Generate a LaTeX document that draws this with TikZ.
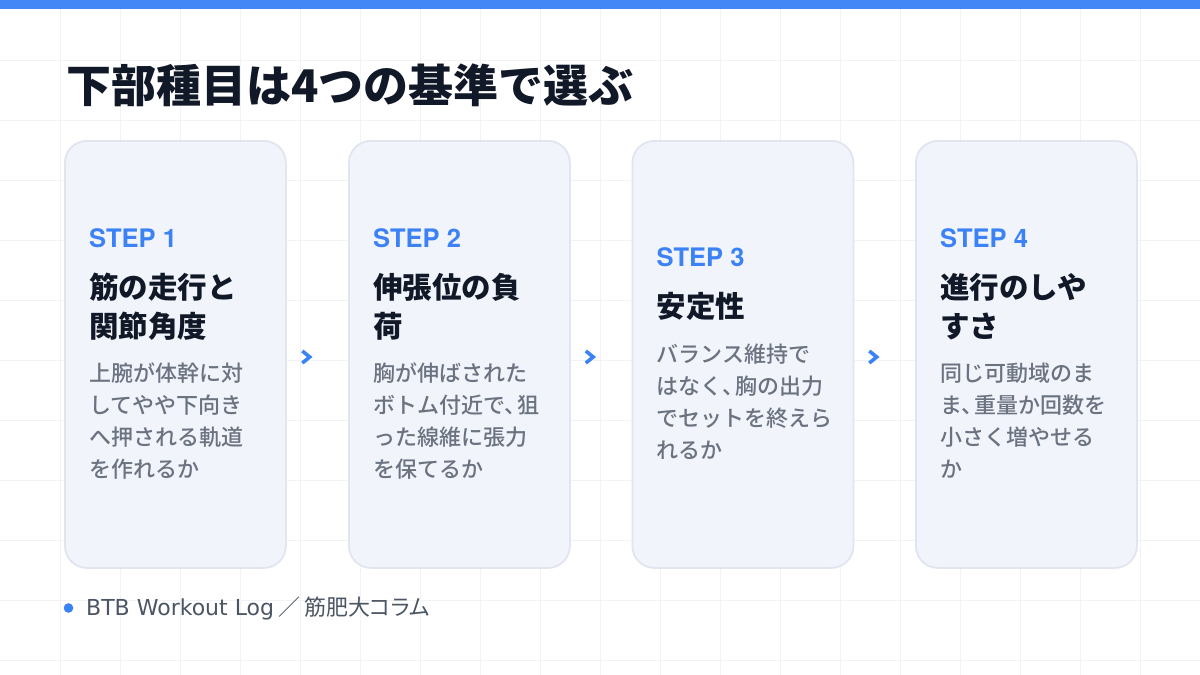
\documentclass[tikz,border=0pt]{standalone}
\usepackage{fontspec}
\setmainfont{Noto Sans CJK JP}
\newfontfamily\titlefont{Noto Sans CJK JP Black}
\newfontfamily\bodyfont{Noto Sans CJK JP Medium}
\newfontfamily\latinfont{TeX Gyre Heros}
\newfontfamily\footlatin{DejaVu Sans}
\newfontfamily\footcjk{Noto Sans CJK JP}[RawFeature=+palt]
\definecolor{bluec}{HTML}{3B82F6}
\definecolor{barc}{HTML}{4287F5}
\definecolor{inkc}{HTML}{111827}
\definecolor{bodyc}{HTML}{6B7280}
\definecolor{footc}{HTML}{4B5563}
\definecolor{cardfill}{HTML}{F1F4FB}
\definecolor{cardline}{HTML}{E1E5EF}
\definecolor{gridc}{HTML}{F2F3F6}
\newcommand\tten{、\kern-0.4em}
\tikzset{
  gridline/.style={draw=gridc, line width=0.8pt},
  card/.style={draw=cardline, fill=cardfill, line width=1.8pt, rounded corners=22pt,
    minimum width=221pt, minimum height=427pt, inner sep=0pt, anchor=north west},
  txt/.style={inner sep=0pt, anchor=base west},
  steplbl/.style={txt, text=bluec, font=\latinfont\bfseries\fontsize{25.5}{28}\selectfont},
  headc/.style={txt, text=inkc, font=\bfseries\fontsize{29.5}{36}\selectfont},
  bodyt/.style={txt, text=bodyc, font=\bodyfont\fontsize{22}{28}\selectfont},
  chev/.style={draw=bluec, line width=3.6pt, line cap=butt, line join=miter},
}
\begin{document}
\begin{tikzpicture}[x=1pt,y=-1pt]
\useasboundingbox (0,0) rectangle (1200,675);
\fill[white] (0,0) rectangle (1200,675);
\foreach \gx in {60,120,...,1140} \draw[gridline] (\gx,0) -- (\gx,675);
\foreach \gy in {60,120,...,660} \draw[gridline] (0,\gy) -- (1200,\gy);
\fill[barc] (0,0) rectangle (1200,9);
\node[txt, text=inkc, font=\titlefont\fontsize{45}{54}\selectfont] (title) at (66,102) {下部種目は4つの基準で選ぶ};
% cards
\node[card] (c1) at (64,140) {};
\node[card] (c2) at (348,140) {};
\node[card] (c3) at (631.5,140) {};
\node[card] (c4) at (915,140) {};
% card 1
\node[steplbl] (s1) at (89,247) {STEP 1};
\node[headc] (h1a) at (89,298) {筋の走行と};
\node[headc] (h1b) at (89,337) {関節角度};
\node[bodyt] (b1a) at (89,381) {上腕が体幹に対};
\node[bodyt] (b1b) at (89,413) {してやや下向き};
\node[bodyt] (b1c) at (89,445) {へ押される軌道};
\node[bodyt] (b1d) at (89,477) {を作れるか};
% card 2
\node[steplbl] (s2) at (373,247) {STEP 2};
\node[headc] (h2a) at (373,298) {伸張位の負};
\node[headc] (h2b) at (373,337) {荷};
\node[bodyt] (b2a) at (373,381) {胸が伸ばされた};
\node[bodyt] (b2b) at (373,413) {ボトム付近で\tten 狙};
\node[bodyt] (b2c) at (373,445) {った線維に張力};
\node[bodyt] (b2d) at (373,477) {を保てるか};
% card 3
\node[steplbl] (s3) at (656.5,266) {STEP 3};
\node[headc] (h3a) at (656.5,317) {安定性};
\node[bodyt] (b3a) at (656.5,362) {バランス維持で};
\node[bodyt] (b3b) at (656.5,394) {はなく\tten 胸の出力};
\node[bodyt] (b3c) at (656.5,426) {でセットを終えら};
\node[bodyt] (b3d) at (656.5,458) {れるか};
% card 4
\node[steplbl] (s4) at (940,247) {STEP 4};
\node[headc] (h4a) at (940,298) {進行のしや};
\node[headc] (h4b) at (940,337) {すさ};
\node[bodyt] (b4a) at (940,381) {同じ可動域のま};
\node[bodyt] (b4b) at (940,413) {ま\tten 重量か回数を};
\node[bodyt] (b4c) at (940,445) {小さく増やせる};
\node[bodyt] (b4d) at (940,477) {か};
% chevrons between cards
\foreach \cx/\nm in {306.5/a1, 590/a2, 873.5/a3} {
  \coordinate (\nm) at (\cx,357);
  \draw[chev] ([xshift=-4.2pt,yshift=6pt]\nm) -- ([xshift=3.2pt]\nm) -- ([xshift=-4.2pt,yshift=-6pt]\nm);
}
% footer
\fill[bluec] (68.5,608) circle (4.8pt) coordinate (dot);
\node[txt, text=footc, font=\fontsize{22}{26}\selectfont] (foot) at (86,615) {{\footlatin BTB Workout Log}\hspace{4pt}{\footcjk ／\hspace{4pt}筋肥大コラム}};
\end{tikzpicture}
\end{document}
